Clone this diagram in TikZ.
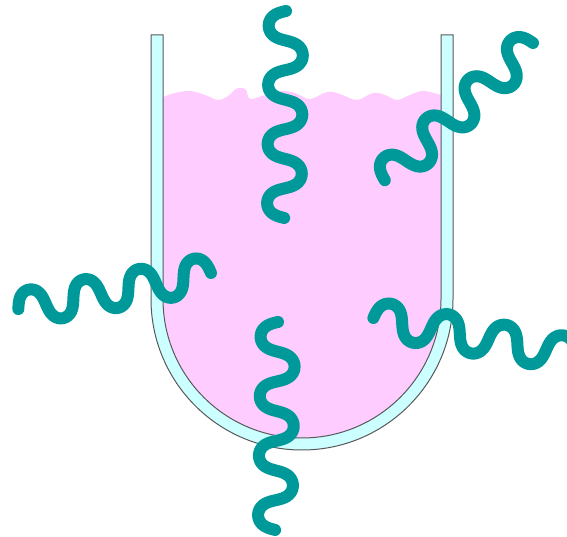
\documentclass[tikz,border=0pt]{standalone}
\usepackage{amsmath}
\usepackage{tikz}

\definecolor{liquidpink}{HTML}{FFCCFF}
\definecolor{glasscyan}{HTML}{CCFFFF}
\definecolor{waveteal}{HTML}{009999}

\begin{document}
\begin{tikzpicture}[x=1pt,y=1pt,
		liquid/.style={fill=liquidpink},
		tubewall/.style={fill=glasscyan, draw=black!65, line width=1pt},
		emwave/.style={draw=waveteal, line width=12pt, line cap=round, line join=round}]
			\useasboundingbox (0,0) rectangle (567,537);
			\clip (0,0) rectangle (567,537);
			
			% liquid with a rippled surface
			\fill[liquid] plot[smooth, tension=0.6] coordinates {(163,440) (175,444) (190,446) (205,442) (218,437) (228,441) (236,448) (241,449) (246,447) (250,438) (262,441) (280,446) (295,444) (310,438) (327,445) (340,443) (357,437) (373,444) (385,442) (397,437) (410,442) (423,446) (441,442)}
				-- (441,238) arc[start angle=0, end angle=-180, radius=139] -- cycle;
			
			% glass wall of the tube
			\draw[tubewall] (151,502) -- (151,238) arc[start angle=180, end angle=360, radius=151]
				-- (453,502) -- (441,502) -- (441,238) arc[start angle=0, end angle=-180, radius=139]
				-- (163,502) -- cycle;
			
			% waves: start x / start y / direction / length (3.5 periods each,
			% crests widened a little so they look like joined arcs)
			\foreach \sx/\sy/\ang/\len in {286/526/-90.5/207, 533/494/-137.2/202, 211/264/-169.4/196, 278/215/-90.8/208, 575/182/169.6/205}
				\draw[emwave, shift={(\sx,\sy)}, rotate=\ang]
					plot[smooth, domain=0:1260, samples=160] ({(\x-16*sin(2*\x))/1260*\len}, {-17.2*sin(\x)});
		\end{tikzpicture}
\end{document}
